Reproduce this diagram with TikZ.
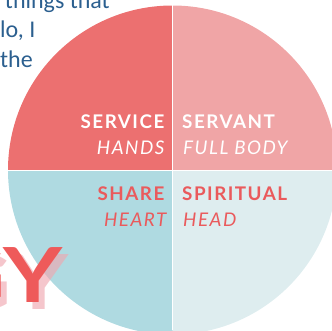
\documentclass[tikz,border=0pt]{standalone}
\usepackage{fontspec}
\setmainfont{Lato}
\newfontfamily\labfont[LetterSpace=8]{Lato}
\newfontfamily\bodyfont{Carlito}
\definecolor{qtl}{HTML}{EC7070}
\definecolor{qtr}{HTML}{F0A5A6}
\definecolor{qbl}{HTML}{AFDAE1}
\definecolor{qbr}{HTML}{DEEDEF}
\definecolor{lred}{HTML}{EA5A5C}
\definecolor{tblue}{HTML}{2B5F8F}
\definecolor{gyred}{HTML}{EE5A5A}
\definecolor{gyshadow}{HTML}{EFA8B0}
\begin{document}
\begin{tikzpicture}[x=1pt,y=1pt,
  lab/.style={inner sep=0pt, font=\labfont\fontsize{18.8}{20}\selectfont},
  labb/.style={lab, font=\labfont\bfseries\fontsize{18.8}{20}\selectfont},
  labi/.style={lab, font=\labfont\itshape\fontsize{18.8}{20}\selectfont},
  body/.style={inner sep=0pt, text=tblue, font=\bodyfont\fontsize{24}{26}\selectfont},
  big/.style={inner sep=0pt, xscale=1.2, font=\bfseries\fontsize{76}{80}\selectfont}]
\useasboundingbox (0,0) rectangle (332,330);
\clip (0,0) rectangle (332,330);
\coordinate (C) at (172.5,160);
\def\R{164.5}
\fill[qtl] (C) -- ++(-\R,0) arc (180:90:\R) -- cycle;
\fill[qtr] (C) -- ++(0,\R) arc (90:0:\R) -- cycle;
\fill[qbr] (C) -- ++(\R,0) arc (0:-90:\R) -- cycle;
\fill[qbl] (C) -- ++(0,-\R) arc (-90:-180:\R) -- cycle;
\coordinate (T) at (172.5,330);
\coordinate (B) at (172.5,0);
\coordinate (L) at (0,160);
\coordinate (Rt) at (332,160);
\draw[white, line width=0.9pt] (T) -- (B);
\draw[white, line width=0.9pt] (L) -- (Rt);
% text blocks
\node[body, anchor=base east] (t1) at (110,321) {things that};
\node[body, anchor=base west] (t2) at (0,292) {lo, I};
\node[body, anchor=base west] (t3) at (0,262) {the};
% GY
\node[big, text=gyshadow, opacity=0.65, anchor=base east] (gys) at (69,21) {GY};
\node[big, text=gyred, anchor=base east] (gy) at (63,28) {GY};
% labels
\node[labb, text=white, anchor=base east] (service) at (164.5,201) {SERVICE};
\node[labi, text=white, anchor=base east] (hands) at (164.5,176) {HANDS};
\node[labb, text=white, anchor=base west] (servant) at (182,201) {SERVANT};
\node[labi, text=white, anchor=base west] (fullbody) at (183,176) {FULL BODY};
\node[labb, text=lred, anchor=base east] (share) at (164.5,130) {SHARE};
\node[labi, text=lred, anchor=base east] (heart) at (166.5,104) {HEART};
\node[labb, text=lred, anchor=base west] (spiritual) at (182,130) {SPIRITUAL};
\node[labi, text=lred, anchor=base west] (head) at (183,104) {HEAD};
\end{tikzpicture}
\end{document}
